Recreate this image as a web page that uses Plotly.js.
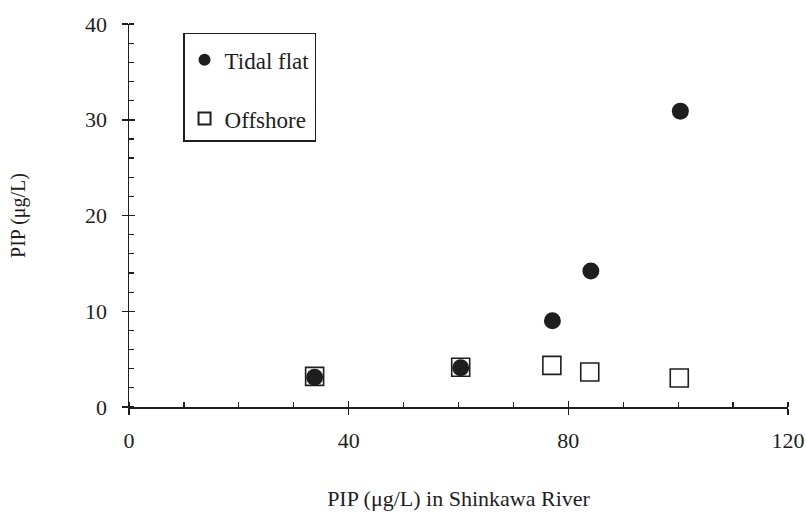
<!DOCTYPE html>
<html>
<head>
<meta charset="utf-8">
<script src="https://cdn.plot.ly/plotly-3.0.1.min.js"></script>
<style>html,body{margin:0;padding:0;background:#fff;}#chart{width:806px;height:515px;}</style>
</head>
<body>
<div id="chart"></div>
<script>
// Data
const tidalX = [33.8, 60.4, 77.1, 84.1, 100.4];
const tidalY = [3.1, 4.1, 9.0, 14.2, 30.9];
const offshoreX = [33.8, 60.4, 77.0, 83.9, 100.2];
const offshoreY = [3.2, 4.15, 4.35, 3.66, 3.03];
const seriesNames = ["Tidal flat", "Offshore"];
const xTitle = "PIP (μg/L) in Shinkawa River";
const yTitle = "PIP (μg/L)";

const FONT = "Liberation Serif";
const INK = "#1e1e1e";

const traces = [
  {
    x: tidalX, y: tidalY, name: seriesNames[0], type: "scatter", mode: "markers",
    legendgroup: "a",
    marker: {symbol: "circle", size: 17, color: INK, line: {width: 0}},
    cliponaxis: false
  },
  {
    x: offshoreX, y: offshoreY, name: seriesNames[1], type: "scatter", mode: "markers",
    legendgroup: "b",
    marker: {symbol: "square-open", size: 18, color: INK, line: {width: 1.6, color: INK}},
    cliponaxis: false
  },
  // helper trace for inner major ticks on the overlaid axes
  {x: [0], y: [0], xaxis: "x2", yaxis: "y2", mode: "markers", marker: {opacity: 0}, showlegend: false, hoverinfo: "skip"}
];

const layout = {
  width: 806, height: 515,
  margin: {l: 129, r: 18, t: 24, b: 108},
  paper_bgcolor: "#fff", plot_bgcolor: "#fff",
  font: {family: FONT, color: INK, size: 22},
  showlegend: true,
  legend: {
    x: 0.082, y: 0.977, xanchor: "left", yanchor: "top",
    bgcolor: "#fff", bordercolor: INK, borderwidth: 1.5,
    font: {family: FONT, size: 23, color: INK},
    title: {text: " ", font: {family: FONT, size: 3}},
    itemsizing: "constant", itemwidth: 30,
    traceorder: "grouped", tracegroupgap: 26
  },
  xaxis: {
    range: [0, 120], dtick: 40, tick0: 0,
    showgrid: false, zeroline: false,
    showline: true, linecolor: INK, linewidth: 1.5,
    ticks: "outside", ticklen: 6, tickwidth: 1.5, tickcolor: INK,
    minor: {dtick: 10, ticks: "inside", ticklen: 5, tickwidth: 1.2, tickcolor: INK, showgrid: false},
    ticklabelstandoff: 7,
    tickfont: {family: FONT, size: 22, color: INK},
    title: {text: xTitle, font: {family: FONT, size: 22, color: INK}, standoff: 38},
    fixedrange: true
  },
  yaxis: {
    range: [0, 40], dtick: 10, tick0: 0,
    showgrid: false, zeroline: false,
    showline: true, linecolor: INK, linewidth: 1.5,
    ticks: "outside", ticklen: 6, tickwidth: 1.5, tickcolor: INK,
    minor: {dtick: 2, ticks: "inside", ticklen: 5, tickwidth: 1.2, tickcolor: INK, showgrid: false},
    ticklabelstandoff: 10,
    tickfont: {family: FONT, size: 22, color: INK},
    title: {text: yTitle, font: {family: FONT, size: 20, color: INK}, standoff: 54},
    fixedrange: true
  },
  xaxis2: {
    overlaying: "x", matches: "x", range: [0, 120], dtick: 40, tick0: 0,
    showgrid: false, zeroline: false, showline: false, showticklabels: false,
    ticks: "inside", ticklen: 6, tickwidth: 1.5, tickcolor: INK, side: "bottom"
  },
  yaxis2: {
    overlaying: "y", matches: "y", range: [0, 40], dtick: 10, tick0: 0,
    showgrid: false, zeroline: false, showline: false, showticklabels: false,
    ticks: "inside", ticklen: 6, tickwidth: 1.5, tickcolor: INK, side: "left"
  }
};

Plotly.newPlot("chart", traces, layout, {displayModeBar: false, staticPlot: true});
</script>
</body>
</html>
